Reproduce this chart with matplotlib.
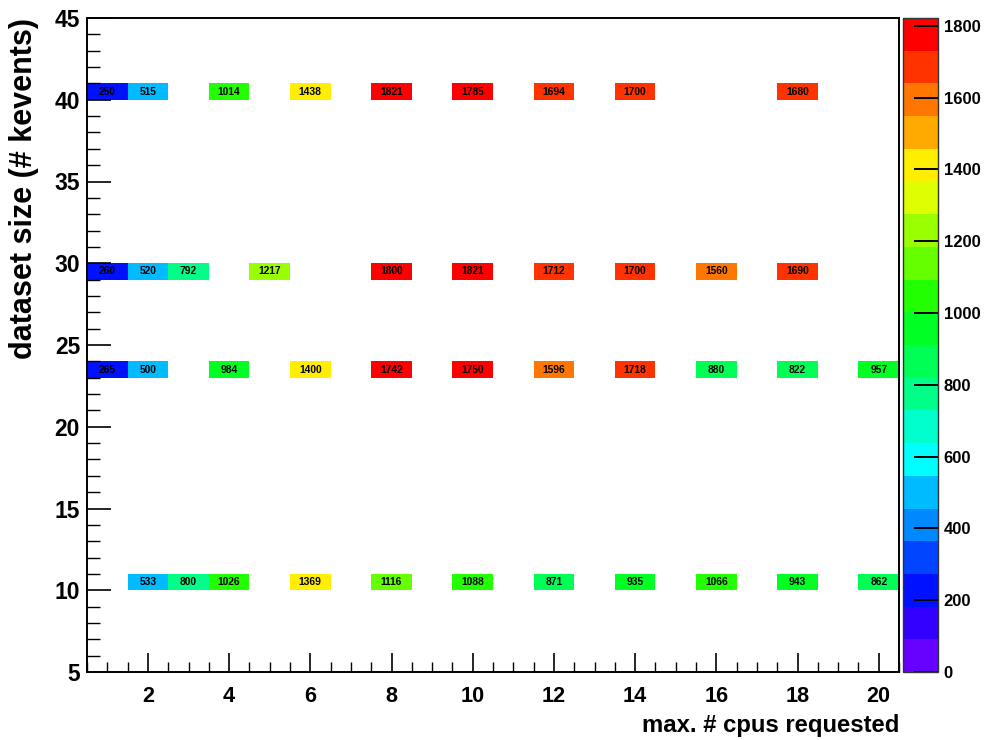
import numpy as np
import matplotlib
matplotlib.use("Agg")
import matplotlib.pyplot as plt
from matplotlib import font_manager
from matplotlib.colors import ListedColormap, BoundaryNorm
from matplotlib.ticker import MultipleLocator

nan = np.nan
# x: max. # cpus requested (bins centred on 1..20)
cpus = list(range(1, 21))
# y: dataset size bins (lower edges, width 1 kevent)
size_bins = [40, 29, 23, 10]

row_40 = [250, 515, nan, 1014, nan, 1438, nan, 1821, nan, 1785, nan, 1694, nan, 1700, nan, nan, nan, 1680, nan, nan]
row_29 = [260, 520, 792, nan, 1217, nan, nan, 1800, nan, 1821, nan, 1712, nan, 1700, nan, 1560, nan, 1690, nan, nan]
row_23 = [265, 500, nan, 984, nan, 1400, nan, 1742, nan, 1750, nan, 1596, nan, 1718, nan, 880, nan, 822, nan, 957]
row_10 = [nan, 533, 800, 1026, nan, 1369, nan, 1116, nan, 1088, nan, 871, nan, 935, nan, 1066, nan, 943, nan, 862]
rows = [row_40, row_29, row_23, row_10]

palette = ["#6600ff", "#3300ff", "#0011ff", "#0044ff", "#0088ff",
           "#00bbff", "#00ffff", "#00ffcc", "#00ff88", "#00ff55",
           "#00ff22", "#22ff00", "#66ff00", "#99ff00", "#ddff00",
           "#ffee00", "#ffaa00", "#ff7700", "#ff3300", "#ff0000"]
zmax = 1821.5
levels = np.linspace(0, zmax, len(palette) + 1)
cmap = ListedColormap(palette)
norm = BoundaryNorm(levels, cmap.N)

try:
    font_manager.findfont(font_manager.FontProperties(family="Liberation Sans Narrow"),
                          fallback_to_default=False)
    NARROW = "Liberation Sans Narrow"
    nscale = 1.0
except Exception:
    NARROW = "Liberation Sans"
    nscale = 0.82

xedges = np.arange(0.5, 21.0, 1.0)
yedges = np.arange(5, 46, 1)
grid = np.full((len(yedges) - 1, len(xedges) - 1), np.nan)
for yb, row in zip(size_bins, rows):
    grid[yb - 5, :] = row
grid = np.ma.masked_invalid(grid)

fig = plt.figure(figsize=(9.94, 7.40), dpi=100)
ax = fig.add_axes([87/994, 68/740, 812/994, 654/740])
cax = fig.add_axes([903/994, 68/740, 35/994, 654/740])

mesh = ax.pcolormesh(xedges, yedges, grid, cmap=cmap, norm=norm)
for yb, row in zip(size_bins, rows):
    for xc, v in zip(cpus, row):
        if not np.isnan(v):
            ax.text(xc, yb + 0.5, f"{int(v)}", ha="center", va="center",
                    fontsize=9 * nscale, fontweight="bold", family=NARROW,
                    color="black")

ax.set_xlim(0.5, 20.5)
ax.set_ylim(5, 45)
ax.xaxis.set_major_locator(MultipleLocator(2))
ax.xaxis.set_minor_locator(MultipleLocator(0.5))
ax.yaxis.set_major_locator(MultipleLocator(5))
ax.yaxis.set_minor_locator(MultipleLocator(1))
ax.tick_params(axis="both", which="major", direction="in", width=1.2, color="black")
ax.tick_params(axis="x", which="major", length=14, pad=10)
ax.tick_params(axis="x", which="minor", direction="in", length=7, width=1.0)
ax.tick_params(axis="y", which="major", length=17, pad=5)
ax.tick_params(axis="y", which="minor", direction="in", length=9, width=1.0)
for lab in ax.get_xticklabels():
    lab.set_fontsize(19 * nscale)
    lab.set_fontweight("bold")
    lab.set_family(NARROW)
for lab in ax.get_yticklabels():
    lab.set_fontsize(16.5)
    lab.set_fontweight("bold")
    lab.set_family("Liberation Sans")
for sp in ax.spines.values():
    sp.set_linewidth(1.4)
    sp.set_color("black")

ax.set_xlabel("max. # cpus requested", fontsize=21 * nscale, fontweight="bold",
              family=NARROW, loc="right", labelpad=5)
ax.set_ylabel("dataset size (# kevents)", fontsize=22, fontweight="bold",
              family="Liberation Sans", loc="top", labelpad=11)

cb = fig.colorbar(mesh, cax=cax, ticks=np.arange(0, 1801, 200))
cb.outline.set_linewidth(1.0)
cb.outline.set_edgecolor("#333333")
cax.tick_params(which="major", direction="in", length=17, width=1.4, pad=4, color="black")
cax.minorticks_off()
for lab in cax.get_yticklabels():
    lab.set_fontsize(12)
    lab.set_fontweight("bold")
    lab.set_family("Liberation Sans")

fig.savefig("out.png", dpi=100)
